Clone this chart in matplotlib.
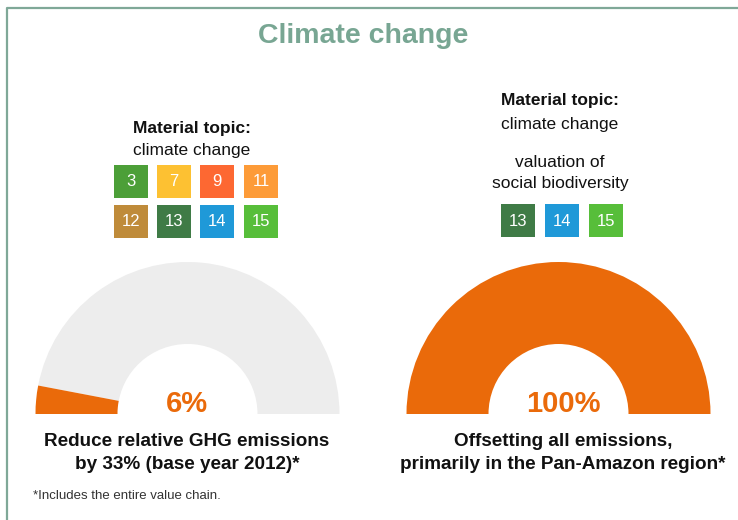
import matplotlib.pyplot as plt
from matplotlib.patches import Wedge, Rectangle

plt.rcParams['font.family'] = ['Liberation Sans', 'DejaVu Sans']

# data
title = "Climate change"
gauge_values = [6, 100]
gauge_labels = ["6%", "100%"]
goal_texts = ["Reduce relative GHG emissions\nby 33% (base year 2012)*",
              "Offsetting all emissions,\nprimarily in the Pan-Amazon region*"]
left_sdgs = [3, 7, 9, 11, 12, 13, 14, 15]
right_sdgs = [13, 14, 15]
footnote = "*Includes the entire value chain."

sdg_colors = {3: '#4C9F38', 7: '#FDC132', 9: '#FD6832', 11: '#FD9B38',
              12: '#BF8B3A', 13: '#3F7B46', 14: '#1F99D8', 15: '#57BE3A'}

ORANGE = '#EA6A0A'
GREY = '#EDEDED'
FRAME = '#7FA898'

fig = plt.figure(figsize=(7.38, 5.2), dpi=100)
ax = fig.add_axes([0, 0, 1, 1])
ax.set_xlim(0, 738)
ax.set_ylim(520, 0)
ax.set_aspect('equal')
ax.axis('off')

# frame
ax.plot([7, 7, 738], [520, 8, 8], color=FRAME, lw=1.6, solid_capstyle='butt')

ax.text(363, 36, title, ha='center', va='center', fontsize=20.5,
        fontweight='bold', color='#78A693')


def gauge(cx, cy, value, label, text, lx):
    r_out, width = 152, 82
    # y axis points down, so angles run clockwise on screen
    ang = 180 * value / 100
    ax.add_patch(Wedge((cx, cy), r_out, 180 + ang, 360, width=width,
                       color=GREY, lw=0))
    ax.add_patch(Wedge((cx, cy), r_out, 180, 180 + ang, width=width,
                       color=ORANGE, lw=0))
    ax.text(lx, cy - 10, label, ha='center', va='center', fontsize=21,
            fontweight='bold', color=ORANGE)
    ax.text(lx, cy + 39, text, ha='center', va='center', fontsize=13.6,
            fontweight='bold', color='#111111', linespacing=1.4)


gauge(187.5, 414, gauge_values[0], gauge_labels[0], goal_texts[0], 187)
gauge(558.5, 414, gauge_values[1], gauge_labels[1], goal_texts[1], 563)


def sdg_box(x, y, n):
    ax.add_patch(Rectangle((x, y), 34, 33, color=sdg_colors[n], lw=0))
    ax.text(x + 17, y + 17, str(n), ha='center', va='center', fontsize=12,
            color='white', fontweight='light')


# left topic block
ax.text(192, 128, "Material topic:", ha='center', va='center', fontsize=12.5,
        fontweight='bold', color='#111111')
ax.text(192, 151, "climate change", ha='center', va='center', fontsize=12.5,
        color='#111111')
left_x = [114, 157, 200, 244]
for i, n in enumerate(left_sdgs):
    sdg_box(left_x[i % 4], 165 if i < 4 else 205, n)

# right topic block
ax.text(560, 101, "Material topic:", ha='center', va='center', fontsize=12.5,
        fontweight='bold', color='#111111')
ax.text(560, 124, "climate change", ha='center', va='center', fontsize=12.5,
        color='#111111')
ax.text(560, 173, "valuation of\nsocial biodiversity", ha='center',
        va='center', fontsize=12.5, color='#111111', linespacing=1.45)
right_x = [501, 545, 589]
for i, n in enumerate(right_sdgs):
    sdg_box(right_x[i], 204, n)

ax.text(33, 496, footnote, ha='left', va='center', fontsize=9.5,
        color='#333333')

fig.savefig('out.png', dpi=100)
